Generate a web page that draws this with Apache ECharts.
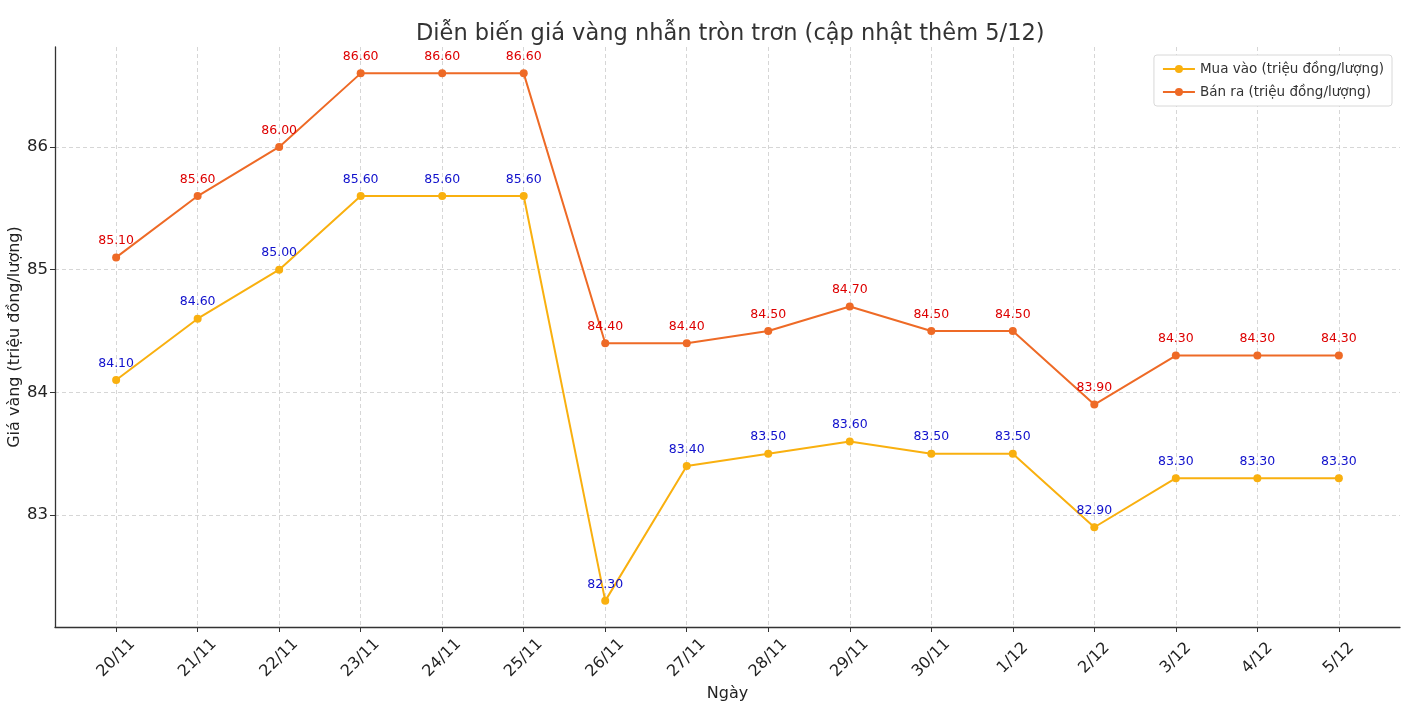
<!DOCTYPE html>
<html><head><meta charset="utf-8">
<script src="https://cdn.jsdelivr.net/npm/echarts@6/dist/echarts.min.js"></script>
<style>html,body{margin:0;padding:0;background:#fff}#c{width:1407px;height:707px}</style>
</head><body><div id="c"></div>
<script>
const categories = ["20/11","21/11","22/11","23/11","24/11","25/11","26/11","27/11","28/11","29/11","30/11","1/12","2/12","3/12","4/12","5/12"];
const muaVao = [84.10,84.60,85.00,85.60,85.60,85.60,82.30,83.40,83.50,83.60,83.50,83.50,82.90,83.30,83.30,83.30];
const banRa  = [85.10,85.60,86.00,86.60,86.60,86.60,84.40,84.40,84.50,84.70,84.50,84.50,83.90,84.30,84.30,84.30];
const yTicks = [83,84,85,86];

const FONT = "DejaVu Sans";
const chart = echarts.init(document.getElementById('c'), null, {renderer:'canvas'});
const idx = categories.map((_, i) => i);
function pairs(arr){ return arr.map((v,i)=>[i,v]); }
function labelCfg(color){
  return {show:true, position:'top', distance:6, color:color, fontFamily:FONT, fontSize:12.5,
          formatter: p => p.value[1].toFixed(2)};
}
chart.setOption({
  animation:false,
  textStyle:{fontFamily:FONT},
  title:{text:'Diễn biến giá vàng nhẫn tròn trơn (cập nhật thêm 5/12)', left:411, top:18,
         textStyle:{fontFamily:FONT, fontSize:22.5, fontWeight:'normal', color:'#333'}},
  legend:{orient:'vertical', right:15, top:55, borderColor:'#d8d8d8', borderWidth:1, borderRadius:3,
          padding:[7,8,7,8], itemGap:9, itemWidth:32, itemHeight:10,
          textStyle:{fontFamily:FONT, fontSize:13.5, color:'#333'}, backgroundColor:'#fff',
          data:['Mua vào (triệu đồng/lượng)','Bán ra (triệu đồng/lượng)']},
  grid:{left:55, right:7, top:47, bottom:80, containLabel:false, outerBoundsMode:'none'},
  xAxis:{type:'value', min:-0.75, max:15.75,
    name:'Ngày', nameLocation:'middle', nameGap:59, nameMoveOverlap:false,
    nameTextStyle:{fontFamily:FONT, fontSize:16, color:'#222'},
    axisLine:{show:true, onZero:false, lineStyle:{color:'#333', width:1.3}},
    axisTick:{show:true, customValues:idx, length:5, lineStyle:{color:'#333'}},
    axisLabel:{customValues:idx, rotate:45, align:'center', verticalAlign:'middle', margin:31,
      fontFamily:FONT, fontSize:16, color:'#222', formatter:v=>categories[Math.round(v)]},
    splitLine:{show:true, lineStyle:{color:'#cccccc', type:[4,3], width:0.8}}
  },
  yAxis:{type:'value', min:82.087, max:86.815,
    name:'Giá vàng (triệu đồng/lượng)', nameLocation:'middle', nameGap:32, nameMoveOverlap:false,
    nameTextStyle:{fontFamily:FONT, fontSize:16, color:'#222'},
    axisLine:{show:true, onZero:false, lineStyle:{color:'#333', width:1.3}},
    axisTick:{show:true, customValues:yTicks, length:5, lineStyle:{color:'#333'}},
    axisLabel:{customValues:yTicks, margin:7, fontFamily:FONT, fontSize:16.5, color:'#222',
      formatter:v=>String(v)},
    splitLine:{show:true, lineStyle:{color:'#cccccc', type:[4,3], width:0.8}}
  },
  series:[
    {name:'Mua vào (triệu đồng/lượng)', type:'line', data:pairs(muaVao), symbol:'circle', symbolSize:8,
     itemStyle:{color:'#F9B00F'}, lineStyle:{color:'#F9B00F', width:2}, label:labelCfg('#1010cc'), z:3},
    {name:'Bán ra (triệu đồng/lượng)', type:'line', data:pairs(banRa), symbol:'circle', symbolSize:8,
     itemStyle:{color:'#EE6A26'}, lineStyle:{color:'#EE6A26', width:2}, label:labelCfg('#dd0000'), z:3}
  ]
});
</script></body></html>
